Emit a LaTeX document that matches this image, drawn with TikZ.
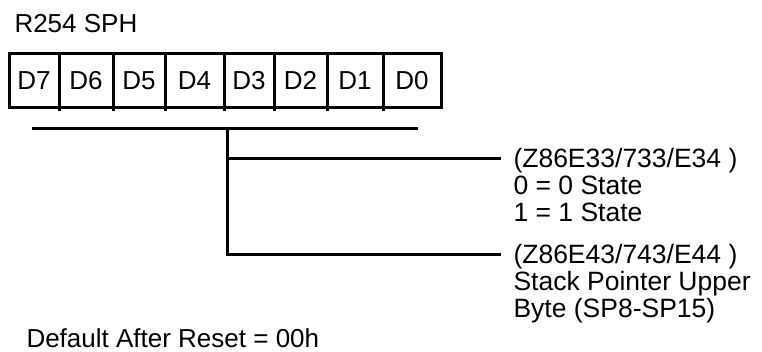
\documentclass[tikz,border=0pt]{standalone}
\usepackage{fontspec}
\setmainfont{Liberation Sans}
\usetikzlibrary{positioning, calc}

\begin{document}
\begin{tikzpicture}[x=1pt, y=-1pt, line width=3pt,
    bitlbl/.style={font=\fontsize{26}{27}\selectfont, inner sep=0pt, anchor=base},
    txt/.style={font=\fontsize{26}{27}\selectfont, inner sep=0pt, anchor=base west, align=left},
    note/.style={font=\fontsize{26.5}{27}\selectfont, inner sep=0pt, anchor=base west, align=left}]
    \useasboundingbox (0,0) rectangle (762,351);
    \node[txt] (title) at (13,32) {R254 SPH};
    % register cells
    \draw (9,53) rectangle (441,107);
    \foreach \x in {59,113,165,224,274,327,383}
      \draw (\x,53) -- (\x,111);
    \foreach \l/\x in {7/34, 6/86, 5/139, 4/194.5, 3/249, 2/300.5, 1/355, 0/412}
      \node[bitlbl] (bit\l) at (\x,89) {D\l};
    % field bracket
    \coordinate (barL) at (32,128);
    \coordinate (barR) at (418,128);
    \coordinate (stemT) at (227,128);
    \coordinate (br1) at (227,158);
    \coordinate (stemB) at (227,254);
    \node[note] (grp1) at (512,221) {(Z86E33/733/E34 )\\0 = 0 State\\1 = 1 State};
    \node[note] (grp2) at (512,317) {(Z86E43/743/E44 )\\Stack Pointer Upper\\Byte (SP8-SP15)};
    \draw (barL) -- (barR);
    \draw[shorten >=11pt] (br1) -- (br1 -| grp1.west);
    \draw[shorten >=11pt] (stemT) -- (stemB) -- (stemB -| grp2.west);
    \node[txt] (reset) at (25,347) {Default After Reset = 00h};
  \end{tikzpicture}
\end{document}
